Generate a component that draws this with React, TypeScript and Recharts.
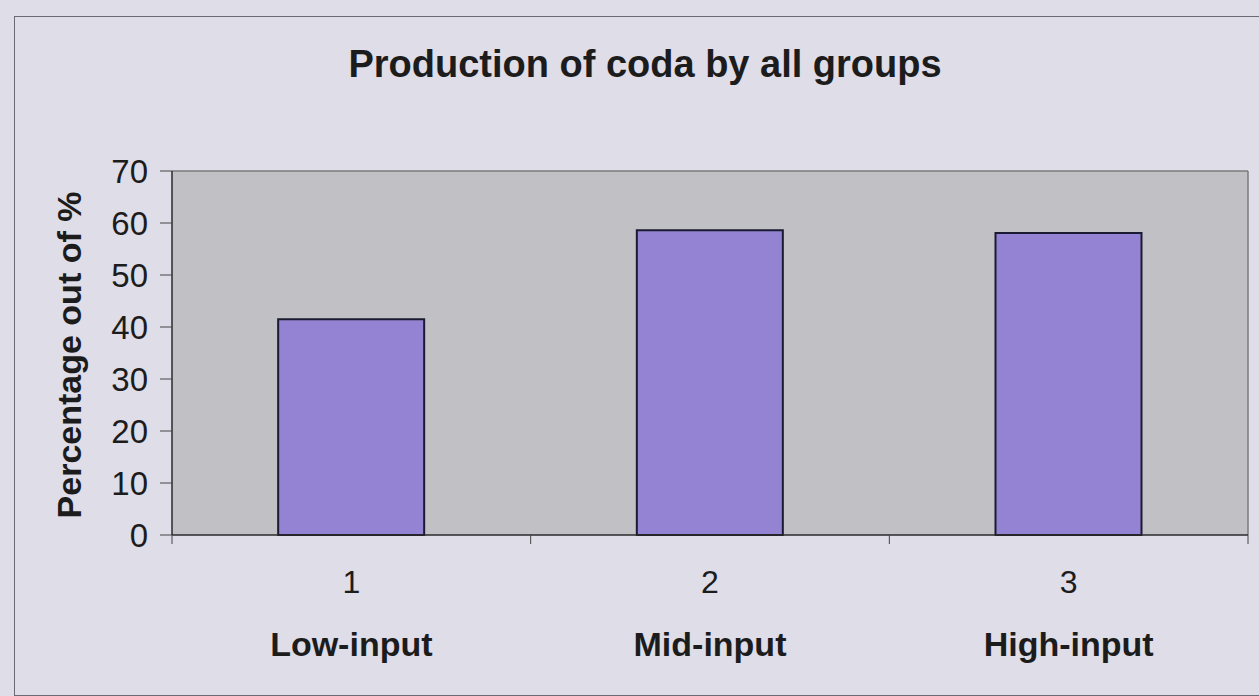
import React from "react";
import { Bar, BarChart, CartesianGrid, Label, XAxis, YAxis } from "recharts";

const categories = ["Low-input", "Mid-input", "High-input"];
const groupNumbers = [1, 2, 3];
const codaPercent = [41.5, 58.6, 58.1];
const yTicks = [0, 10, 20, 30, 40, 50, 60, 70];

const data = categories.map((name, i) => ({
  name,
  num: groupNumbers[i],
  value: codaPercent[i],
}));

const FONT = '"Liberation Sans", Arial, Helvetica, sans-serif';
const INK = "#1c1c1c";
const FRAME = "#7a7a7e";
const PLOT_W = 1259 - 172 - 11;

// Excel-style category axis: tick marks sit between categories, labels in two rows
function GroupTick(props: any) {
  const { x, y, payload, index, visibleTicksCount } = props;
  const i = payload?.index ?? index;
  const half = payload?.offset || PLOT_W / (visibleTicksCount || categories.length) / 2;
  const last = i === categories.length - 1;
  return (
    <g>
      <line x1={x - half} x2={x - half} y1={y} y2={y + 9} stroke="#444" />
      {last && <line x1={x + half} x2={x + half} y1={y} y2={y + 9} stroke="#444" />}
      <text x={x} y={y + 58} textAnchor="middle" fontSize={32} fill={INK} fontFamily={FONT}>
        {payload.value}
      </text>
      <text
        x={x}
        y={y + 121}
        textAnchor="middle"
        fontSize={34}
        fontWeight="bold"
        fill={INK}
        fontFamily={FONT}
      >
        {categories[i]}
      </text>
    </g>
  );
}

export default function App() {
  return (
    <div
      style={{
        position: "absolute",
        left: 0,
        top: 0,
        width: 1259,
        height: 696,
        overflow: "hidden",
        background: "#dedde8",
        fontFamily: FONT,
      }}
    >
      <div
        style={{
          position: "absolute",
          left: 14,
          top: 16,
          width: 1300,
          height: 678,
          borderTop: "1.5px solid #6a6a70",
          borderLeft: "1.5px solid #6a6a70",
          borderBottom: "1.5px solid #6a6a70",
        }}
      />
      <div style={{ position: "absolute", left: 0, top: 0 }}>
        <BarChart
          width={1259}
          height={696}
          data={data}
          margin={{ top: 171, right: 11, bottom: 0, left: 0 }}
          barCategoryGap="29.6%"
        >
          <CartesianGrid
            fill="#c1c0c5"
            stroke={FRAME}
            strokeWidth={1.5}
            horizontalCoordinatesGenerator={({ offset }: any) => [offset.top]}
            verticalCoordinatesGenerator={({ offset }: any) => [offset.left + offset.width]}
          />
          <XAxis
            dataKey="num"
            height={161}
            axisLine={{ stroke: "#2a2a2a", strokeWidth: 1.5 }}
            tickLine={false}
            tickSize={0}
            tickMargin={0}
            tick={<GroupTick />}
            interval={0}
          />
          <YAxis
            width={172}
            domain={[0, 70]}
            ticks={yTicks}
            interval={0}
            axisLine={{ stroke: "#2a2a2a", strokeWidth: 1.5 }}
            tickLine={{ stroke: "#444" }}
            tickSize={12}
            tickMargin={12}
            tick={{ fontSize: 33, fill: INK, fontFamily: FONT }}
          >
            <Label
              content={() => (
                <text
                  x={81}
                  y={355}
                  transform="rotate(-90 81 355)"
                  textAnchor="middle"
                  fontSize={34}
                  fontWeight="bold"
                  fill={INK}
                  fontFamily={FONT}
                >
                  Percentage out of %
                </text>
              )}
            />
          </YAxis>
          <Bar
            dataKey="value"
            fill="#9483d2"
            stroke="#1a1a33"
            strokeWidth={2}
            isAnimationActive={false}
          />
        </BarChart>
      </div>
      <svg
        width={1259}
        height={696}
        style={{ position: "absolute", left: 0, top: 0, pointerEvents: "none" }}
      >
        <text
          x={645}
          y={77}
          textAnchor="middle"
          fontSize={38}
          fontWeight="bold"
          fill={INK}
          fontFamily={FONT}
        >
          Production of coda by all groups
        </text>
      </svg>
    </div>
  );
}
